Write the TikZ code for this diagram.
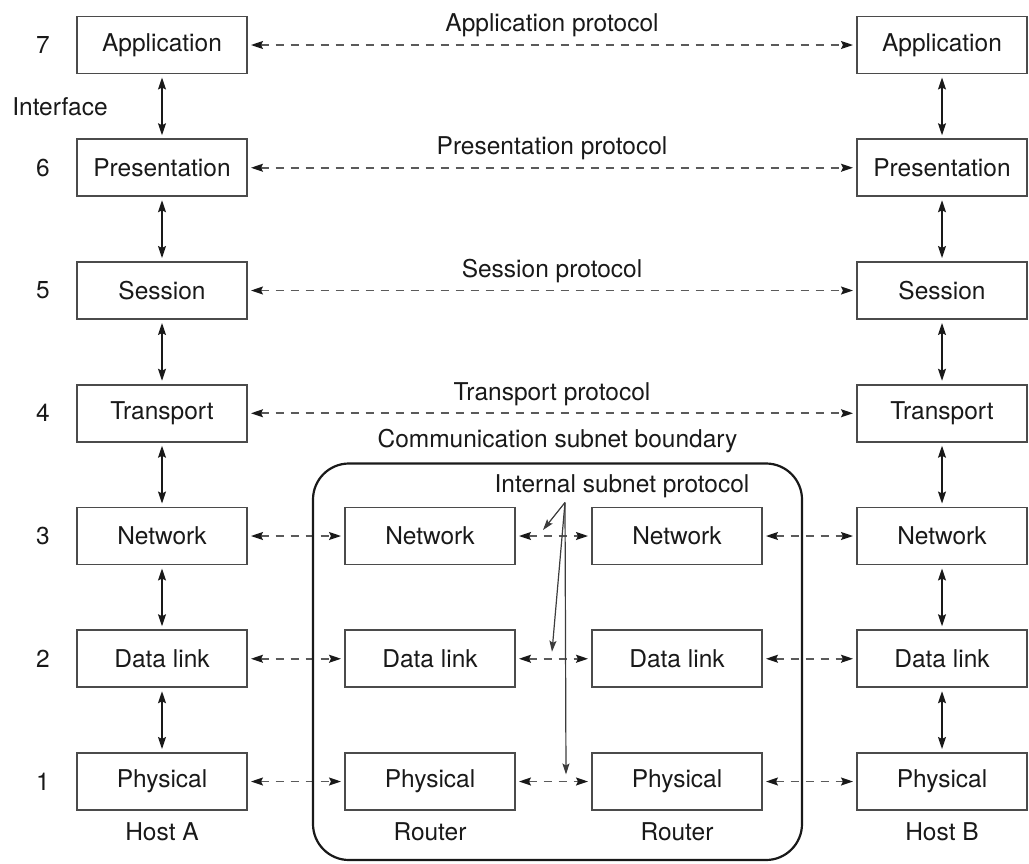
\documentclass[tikz,border=0pt]{standalone}
\usepackage{fontspec}
\setmainfont{TeX Gyre Heros}
\usetikzlibrary{arrows.meta,positioning,calc}
\definecolor{boxline}{RGB}{75,75,75}
\definecolor{protoline}{RGB}{90,90,90}
\definecolor{ink}{RGB}{25,25,25}

\begin{document}
\begin{tikzpicture}[
    x=1pt, y=1pt,
    font=\fontsize{24.5}{29}\selectfont,
    text=ink,
    node distance=65.75pt,
    >={Stealth[length=12pt,width=8pt,inset=2pt]},
    layer/.style={rectangle, draw=boxline, line width=1.8pt, minimum width=170pt, minimum height=57pt, inner sep=0pt, outer sep=0pt},
    tag/.style={inner sep=2pt},
    plabel/.style={above=5pt, inner sep=2pt},
    iface/.style={<->, draw=ink, line width=1.4pt, shorten <=4pt, shorten >=4pt},
    proto/.style={<->, >={Stealth[length=12pt,width=8pt,inset=2pt,color=ink]}, draw=protoline, line width=1.6pt, dash pattern=on 8pt off 7pt, shorten <=4pt, shorten >=4pt},
    subnet/.style={draw=ink, line width=2.2pt, rounded corners=36pt},
    pointer/.style={->, >={Stealth[length=11pt,width=7pt,inset=2pt]}, draw=ink!85, line width=1.2pt},
]
\useasboundingbox (0,0) rectangle (1029,-863);

% Host A stack
\node[layer] (a7) at (162,-45) {Application};
\node[layer, below=of a7] (a6) {Presentation};
\node[layer, below=of a6] (a5) {Session};
\node[layer, below=of a5] (a4) {Transport};
\node[layer, below=of a4] (a3) {Network};
\node[layer, below=of a3] (a2) {Data link};
\node[layer, below=of a2] (a1) {Physical};

% Host B stack
\node[layer, right=610pt of a7] (b7) {Application};
\node[layer, below=of b7] (b6) {Presentation};
\node[layer, below=of b6] (b5) {Session};
\node[layer, below=of b5] (b4) {Transport};
\node[layer, below=of b4] (b3) {Network};
\node[layer, below=of b3] (b2) {Data link};
\node[layer, below=of b2] (b1) {Physical};

% Routers
\node[layer, right=98pt of a3] (ra3) {Network};
\node[layer, below=of ra3] (ra2) {Data link};
\node[layer, below=of ra2] (ra1) {Physical};
\node[layer, right=77pt of ra3] (rb3) {Network};
\node[layer, below=of rb3] (rb2) {Data link};
\node[layer, below=of rb2] (rb1) {Physical};

% Layer numbers
\node[tag, left=25pt of a7] {7};
\node[tag, left=25pt of a6] {6};
\node[tag, left=25pt of a5] {5};
\node[tag, left=25pt of a4] {4};
\node[tag, left=25pt of a3] {3};
\node[tag, left=25pt of a2] {2};
\node[tag, left=25pt of a1] {1};
\node[tag] (iftext) at ($(a7.south west)!0.5!(a6.north west)+(-17,0)$) {Interface};

% Machine names
\node[tag, below=10pt of a1] {Host A};
\node[tag, below=10pt of ra1] {Router};
\node[tag, below=10pt of rb1] {Router};
\node[tag, below=10pt of b1] {Host B};

% Interfaces
\draw[iface] (a7) -- (a6);
\draw[iface] (a6) -- (a5);
\draw[iface] (a5) -- (a4);
\draw[iface] (a4) -- (a3);
\draw[iface] (a3) -- (a2);
\draw[iface] (a2) -- (a1);
\draw[iface] (b7) -- (b6);
\draw[iface] (b6) -- (b5);
\draw[iface] (b5) -- (b4);
\draw[iface] (b4) -- (b3);
\draw[iface] (b3) -- (b2);
\draw[iface] (b2) -- (b1);

% Peer protocols
\draw[proto] (a7) -- node[plabel] {Application protocol} (b7);
\draw[proto] (a6) -- node[plabel] {Presentation protocol} (b6);
\draw[proto] (a5) -- node[plabel] {Session protocol} (b5);
\draw[proto] (a4) -- node[plabel] {Transport protocol} (b4);
\draw[proto] (a3) -- (ra3);
\draw[proto] (ra3) -- (rb3);
\draw[proto] (rb3) -- (b3);
\draw[proto] (a2) -- (ra2);
\draw[proto] (ra2) -- (rb2);
\draw[proto] (rb2) -- (b2);
\draw[proto] (a1) -- (ra1);
\draw[proto] (ra1) -- (rb1);
\draw[proto] (rb1) -- (b1);

% Subnet boundary
\coordinate (sub nw) at ($(ra3.north west)+(-32,44)$);
\coordinate (sub se) at ($(rb1.south east)+(40,-50)$);
\draw[subnet] (sub nw) rectangle (sub se);
\node[plabel, above=8pt] (csb) at ($(sub nw)!0.5!(sub nw -| sub se)$) {Communication subnet boundary};

% Internal subnet protocol
\node[tag, anchor=base] (isp) at ($(sub nw)+(309,-29)$) {Internal subnet protocol};
\coordinate (isp0) at ($(isp.base)+(-57,-10)$);
\coordinate (t3) at ($(ra3.east)+(28,6)$);
\coordinate (t2) at ($(ra2.east)+(37,7)$);
\coordinate (t1) at ($(ra1.east)+(51,7)$);
\draw[pointer] (isp0) -- (t3);
\draw[pointer] (isp0) -- (t2);
\draw[pointer] (isp0) -- (t1);

\end{tikzpicture}
\end{document}
